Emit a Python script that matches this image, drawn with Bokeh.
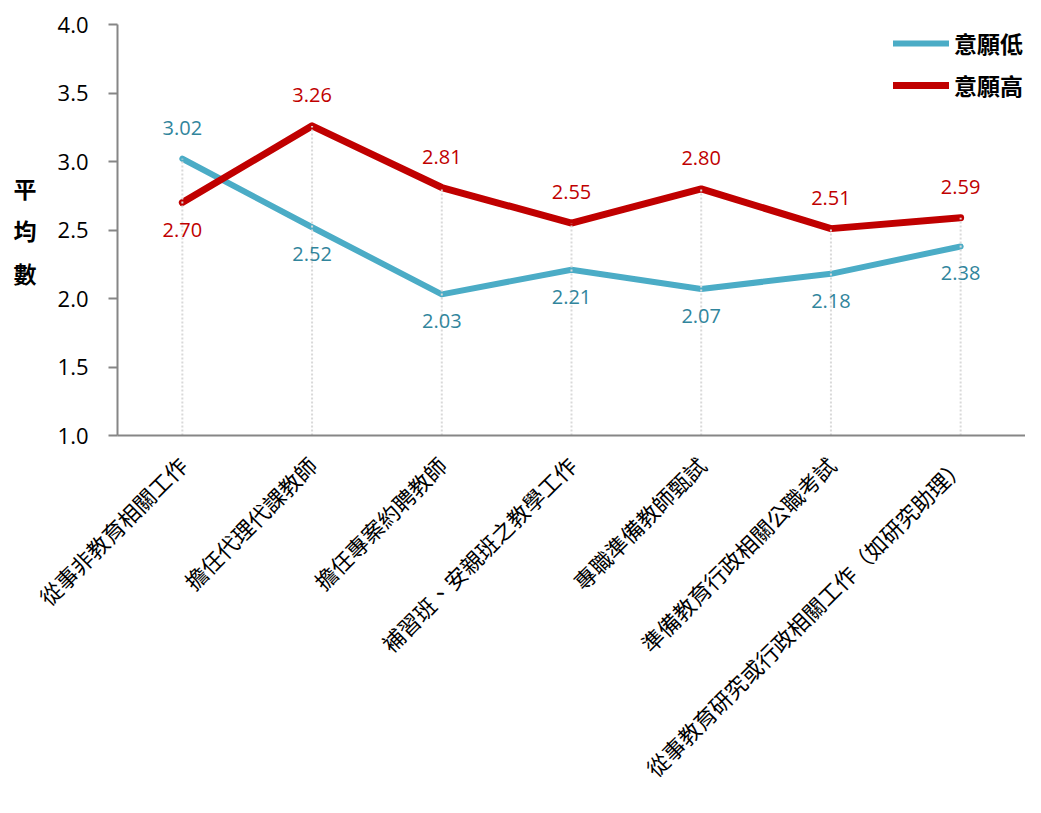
import math
from bokeh.plotting import figure
from bokeh.models import Range1d, FixedTicker, PrintfTickFormatter, ColumnDataSource, Legend, LegendItem
from bokeh.core.properties import value
from bokeh.embed import file_html
from bokeh.resources import INLINE

categories = ["從事非教育相關工作", "擔任代理代課教師", "擔任專案約聘教師", "補習班、安親班之教學工作",
              "專職準備教師甄試", "準備教育行政相關公職考試", "從事教育研究或行政相關工作（如研究助理）"]
low_values = [3.02, 2.52, 2.03, 2.21, 2.07, 2.18, 2.38]
high_values = [2.70, 3.26, 2.81, 2.55, 2.80, 2.51, 2.59]
series_names = ["意願低", "意願高"]
y_ticks = [1.0, 1.5, 2.0, 2.5, 3.0, 3.5, 4.0]

TEAL = "#4BACC6"
TEAL_TXT = "#31859C"
RED = "#C00000"
NUM_FONT = "Open Sans"
CJK_FONT = "Noto Sans CJK TC"

p = figure(width=1025, height=797, x_range=categories, y_range=Range1d(1.0, 4.0),
           output_backend="svg", toolbar_location=None,
           min_border_left=117, min_border_right=0, min_border_top=24, min_border_bottom=361)
p.outline_line_color = None
p.xgrid.grid_line_color = None
p.ygrid.grid_line_color = None

# series lines
r_low = p.line(categories, low_values, line_color=TEAL, line_width=6, line_join="round", line_cap="round")
r_high = p.line(categories, high_values, line_color=RED, line_width=7, line_join="round", line_cap="round")

# dotted drop lines (on top, as in reference)
tops = [max(a, b) for a, b in zip(low_values, high_values)]
p.segment(x0=categories, y0=[1.0] * len(categories), x1=categories, y1=tops,
          line_color="#D9D9D9", line_width=2, line_dash="2 2")

# data labels: the higher point labelled above, lower one below
low_off = [-31 if a >= b else 27 for a, b in zip(low_values, high_values)]
high_off = [-31 if b > a else 27 for a, b in zip(low_values, high_values)]
src_low = ColumnDataSource(dict(x=categories, y=low_values, t=["%.2f" % v for v in low_values], off=low_off))
src_high = ColumnDataSource(dict(x=categories, y=high_values, t=["%.2f" % v for v in high_values], off=high_off))
p.text(x="x", y="y", text="t", y_offset="off", source=src_low, text_color=TEAL_TXT,
       text_font=value(NUM_FONT), text_font_size="20px", text_align="center", text_baseline="middle")
p.text(x="x", y="y", text="t", y_offset="off", source=src_high, text_color=RED,
       text_font=value(NUM_FONT), text_font_size="20px", text_align="center", text_baseline="middle")

# axes
p.yaxis.ticker = FixedTicker(ticks=y_ticks)
p.yaxis.formatter = PrintfTickFormatter(format="%.1f")
p.yaxis.major_label_text_font = NUM_FONT
p.yaxis.major_label_text_font_size = "22px"
p.yaxis.major_label_text_color = "black"
p.yaxis.major_tick_out = 9
p.yaxis.major_tick_in = 0
p.yaxis.minor_tick_line_color = None
p.yaxis.major_tick_line_color = "#868686"
p.yaxis.major_tick_line_width = 2
p.yaxis.axis_line_color = "#868686"
p.yaxis.axis_line_width = 2
p.yaxis.major_label_standoff = 20
p.yaxis.axis_label = "平\n均\n數"
p.yaxis.axis_label_orientation = "horizontal"
p.yaxis.axis_label_text_font = CJK_FONT
p.yaxis.axis_label_text_font_size = "23px"
p.yaxis.axis_label_text_font_style = "bold"
p.yaxis.axis_label_text_color = "black"
p.yaxis.axis_label_text_line_height = 1.25
p.yaxis.axis_label_standoff = 18

p.xaxis.major_label_orientation = math.pi / 4
p.xaxis.major_label_text_font = CJK_FONT
p.xaxis.major_label_text_font_size = "22px"
p.xaxis.major_label_text_color = "black"
p.xaxis.major_tick_line_color = None
p.xaxis.minor_tick_line_color = None
p.xaxis.axis_line_color = "#868686"
p.xaxis.axis_line_width = 2
p.xaxis.major_label_standoff = 19

legend = Legend(items=[LegendItem(label=series_names[0], renderers=[r_low]),
                       LegendItem(label=series_names[1], renderers=[r_high])],
                location="top_right", border_line_color=None, background_fill_alpha=0,
                label_text_font=CJK_FONT, label_text_font_size="23px", label_text_font_style="bold",
                label_text_color="black",
                glyph_width=56, glyph_height=26, spacing=8, label_standoff=5, padding=0, margin=2)
p.add_layout(legend)

open("out.html", "w").write(file_html(p, INLINE))
